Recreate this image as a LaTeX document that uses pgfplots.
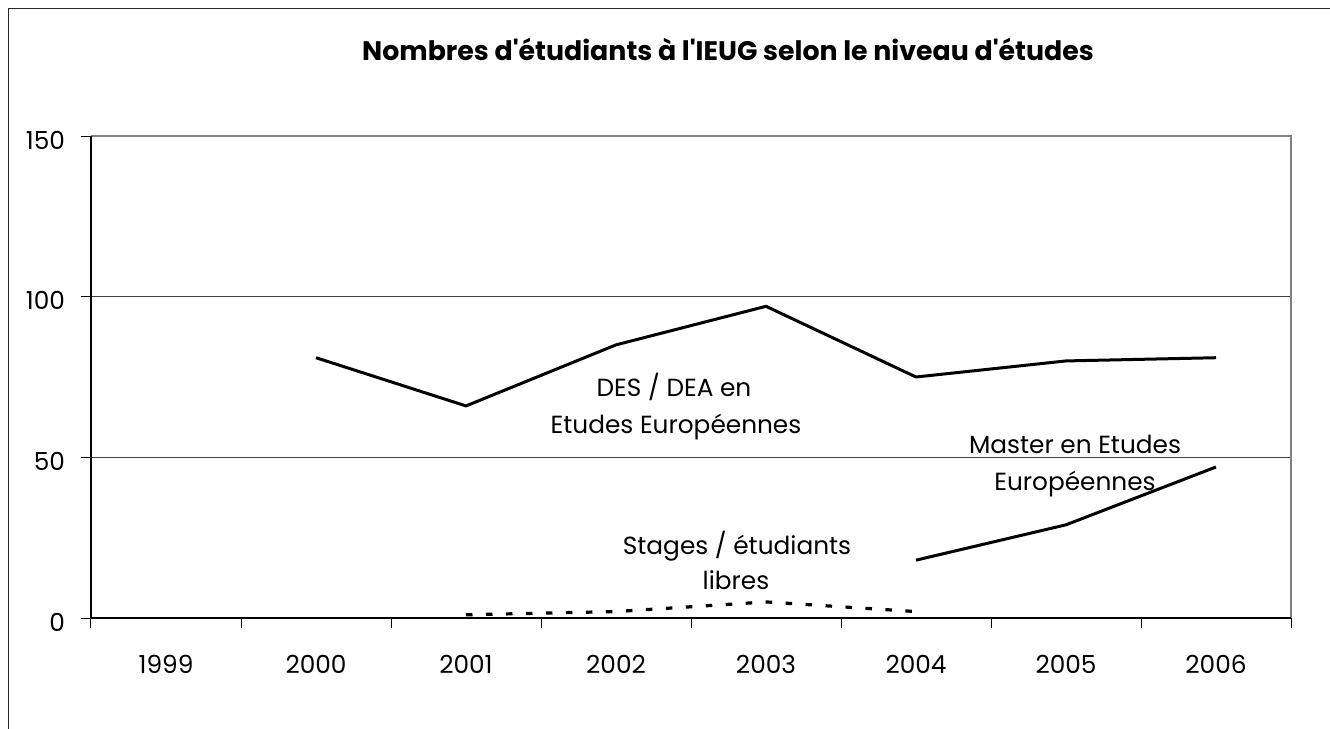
\documentclass[border=0pt]{standalone}
\usepackage{fontspec}
\setmainfont{Poppins}
\usepackage{pgfplots}
\pgfplotsset{compat=1.18}
\begin{document}
\begin{tikzpicture}
\useasboundingbox (0,0) rectangle (665pt,364.5pt);
\draw[line width=0.7pt, black!85] (4.15pt,-5pt) -- (4.15pt,360.35pt) -- (670pt,360.35pt);
\begin{axis}[
 at={(45.5pt,55.5pt)}, anchor=south west, scale only axis,
 width=600pt, height=241pt,
 xmin=-0.5, xmax=7.5, ymin=0, ymax=150,
 xtick={-0.5,0.5,...,7.5}, xticklabels={1999,2000,2001,2002,2003,2004,2005,2006,{}},
 ytick={0,50,100,150},
 xtick pos=bottom, ytick pos=left,
 tick align=outside, major tick length=5pt,
 tick style={black, line width=0.5pt},
 ymajorgrids, grid style={black!75, line width=0.5pt},
 axis line style={draw=none},
 clip=false,
 /pgf/number format/assume math mode=true,
 ticklabel style={font=\fontsize{12.4}{15}\selectfont},
 xticklabel style={xshift=37.5pt, yshift=-10pt},
 yticklabel style={xshift=-4.5pt, yshift=-2pt},
]
\addplot[black, line width=1.5pt, line join=round] coordinates {(1,81) (2,66) (3,85) (4,97) (5,75) (6,80) (7,81)};
\addplot[black, line width=1.5pt, line join=round] coordinates {(5,18) (6,29) (7,47)};
\addplot[black, line width=1.6pt, dash pattern=on 3.25pt off 6.75pt] coordinates {(2,1) (3,2) (4,5) (5,2)};
\draw[gray, line width=0.75pt] (rel axis cs:0,1) -- (rel axis cs:1,1) -- (rel axis cs:1,0);
\draw[black, line width=0.6pt] (rel axis cs:0,1) -- (rel axis cs:0,0) -- (rel axis cs:1,0);
\end{axis}
\begin{scope}[x=0.5pt,y=-0.5pt,shift={(0pt,364.5pt)}]
\node[anchor=base, inner sep=0pt, font=\bfseries\fontsize{13.4}{16}\selectfont] at (728,61) {Nombres d\textquotesingle étudiants à l\textquotesingle IEUG selon le niveau d\textquotesingle études};
\node[anchor=base, inner sep=0pt, font=\fontsize{12.4}{15}\selectfont] at (674,397) {DES / DEA en};
\node[anchor=base, inner sep=0pt, font=\fontsize{12.4}{15}\selectfont] at (676,434) {Etudes Européennes};
\node[anchor=base, inner sep=0pt, font=\fontsize{12.4}{15}\selectfont] at (1075,454) {Master en Etudes};
\node[anchor=base, inner sep=0pt, font=\fontsize{12.4}{15}\selectfont] at (1075,490.5) {Européennes};
\node[anchor=base, inner sep=0pt, font=\fontsize{12.4}{15}\selectfont] at (737,555) {Stages / étudiants};
\node[anchor=base, inner sep=0pt, font=\fontsize{12.4}{15}\selectfont] at (736,590) {libres};
\end{scope}
\end{tikzpicture}
\end{document}
